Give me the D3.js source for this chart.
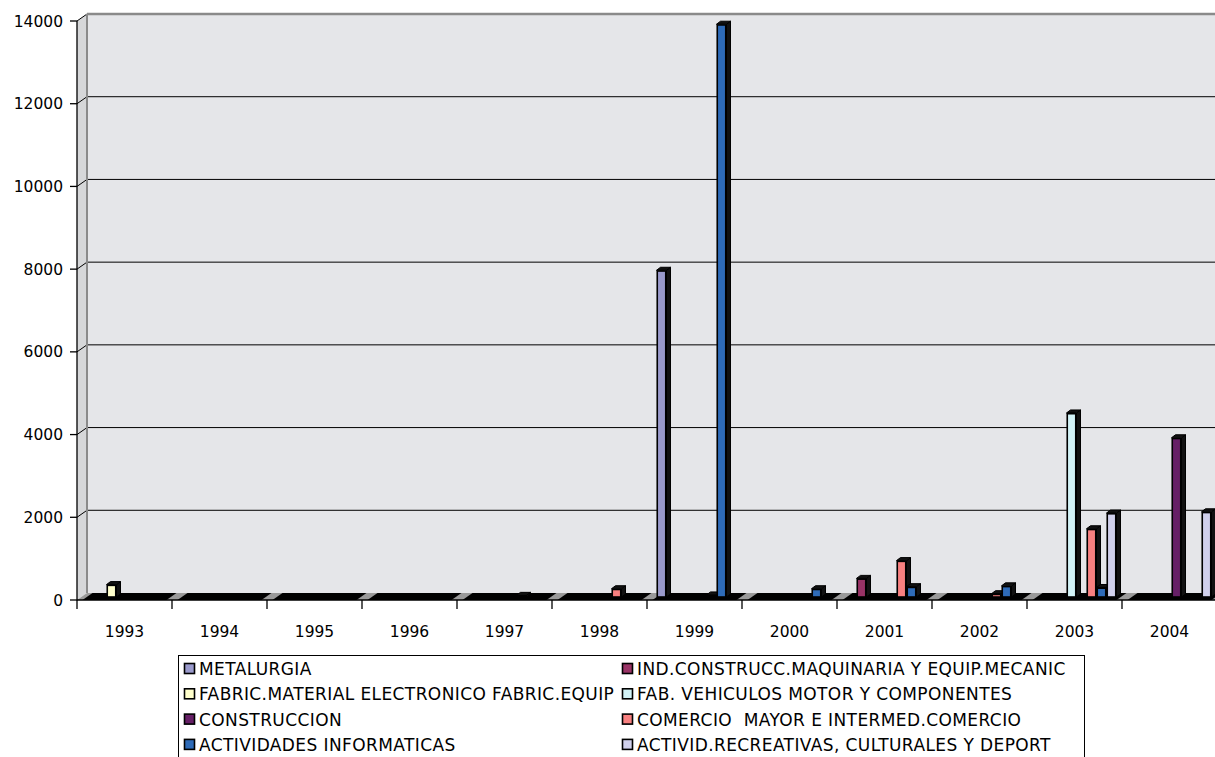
<!DOCTYPE html>
<html>
<head>
<meta charset="utf-8">
<script src="https://cdn.jsdelivr.net/npm/d3@7"></script>
<style>
  html, body { margin: 0; padding: 0; background: #fff; }
  svg { display: block; }
  text { font-family: "DejaVu Sans", sans-serif; fill: #000; }
</style>
</head>
<body>
<svg id="chart" width="1215" height="757"></svg>
<script>
// ---- data ----
const years = ["1993","1994","1995","1996","1997","1998","1999","2000","2001","2002","2003","2004"];
const seriesNames = [
  "METALURGIA",
  "IND.CONSTRUCC.MAQUINARIA Y EQUIP.MECANIC",
  "FABRIC.MATERIAL ELECTRONICO FABRIC.EQUIP",
  "FAB. VEHICULOS MOTOR Y COMPONENTES",
  "CONSTRUCCION",
  "COMERCIO  MAYOR E INTERMED.COMERCIO",
  "ACTIVIDADES INFORMATICAS",
  "ACTIVID.RECREATIVAS, CULTURALES Y DEPORT"
];
const metalurgia    = [0,0,0,0,0,0,7900,0,0,0,0,0];
const indConstrucc  = [0,0,0,0,0,0,0,0,450,0,0,0];
const fabricMaterial= [300,0,0,0,0,0,0,0,0,0,0,0];
const fabVehiculos  = [0,0,0,0,0,0,0,0,0,0,4450,0];
const construccion  = [0,0,0,0,0,0,0,0,0,0,0,3850];
const comercio      = [0,0,0,0,40,200,50,0,880,80,1650,0];
const informaticas  = [0,0,0,0,0,0,13850,200,250,270,230,0];
const recreativas   = [0,0,0,0,0,0,0,0,0,0,2030,2060];
const seriesValues = [metalurgia, indConstrucc, fabricMaterial, fabVehiculos, construccion, comercio, informaticas, recreativas];
const yTicks = [0,2000,4000,6000,8000,10000,12000,14000];
const colors = ["#9A9ACC","#993366","#FFFFCC","#D2F3F7","#661F66","#F88080","#2E6BB8","#D0D0EC"];

// ---- layout ----
const svg = d3.select("#chart");
const W = 1215;
const x0 = d3.scaleBand().domain(years).range([77, 77 + 95 * years.length]).padding(0);
const x1 = d3.scaleBand().domain(d3.range(seriesNames.length)).range([0, x0.bandwidth()]).paddingInner(0).paddingOuter(0.75);
const y = d3.scaleLinear().domain([0, 14000]).range([600, 21]);
const DX = 10, DY = -7;       // back wall depth offset
const BX = 2, BY = -3;        // bar plane offset
const TX = 4, TY = -3;        // bar depth
const axisX = 77, axisY = 600;
const wallTop = y(14000) + DY, floorBack = y(0) + DY;
const pts = arr => arr.map(p => p.join(",")).join(" ");

// back wall
svg.append("rect").attr("x", axisX + DX).attr("y", wallTop).attr("width", W - axisX - DX + 5).attr("height", floorBack - wallTop).attr("fill", "#E5E6E9");
// side wall
svg.append("polygon").attr("points", pts([[axisX, y(14000)], [axisX + DX, wallTop], [axisX + DX, floorBack], [axisX, axisY]]))
  .attr("fill", "#D6D7D9");

// gridlines
yTicks.filter(v => v > 0 && v < 14000).forEach(v => {
  svg.append("line").attr("x1", axisX + DX).attr("x2", W + 5).attr("y1", y(v) + DY).attr("y2", y(v) + DY).attr("stroke", "#000").attr("stroke-width", 1);
});
yTicks.filter(v => v > 0).forEach(v => {
  svg.append("line").attr("x1", axisX).attr("y1", y(v)).attr("x2", axisX + DX).attr("y2", y(v) + DY).attr("stroke", "#000").attr("stroke-width", 1);
});
// wall borders
svg.append("line").attr("x1", axisX + DX).attr("x2", W + 5).attr("y1", wallTop).attr("y2", wallTop).attr("stroke", "#8A8A8A").attr("stroke-width", 2.5);
svg.append("line").attr("x1", axisX + DX).attr("x2", axisX + DX).attr("y1", wallTop).attr("y2", floorBack).attr("stroke", "#8A8A8A").attr("stroke-width", 2);

// floor
svg.append("polygon").attr("points", pts([[axisX, axisY], [axisX + DX, floorBack], [W + 5, floorBack], [W + 5, axisY]]))
  .attr("fill", "#9A9A9A");
years.forEach(yr => {
  const gs = x0(yr);
  const a = gs + x1(0) - 2, b = gs + x1(seriesNames.length - 1) + x1.bandwidth() + 2;
  svg.append("polygon").attr("points", pts([[a, axisY], [b, axisY], [b + DX, floorBack], [a + DX, floorBack]]))
    .attr("fill", "#000");
});

// bars
years.forEach((yr, yi) => {
  seriesValues.forEach((vals, si) => {
    const v = vals[yi];
    if (!v) return;
    const fx = x0(yr) + x1(si) + BX;
    const w = x1.bandwidth();
    const ty = y(v) + BY, by = y(0) + BY;
    const g = svg.append("g");
    g.append("polygon").attr("points", pts([[fx + w, ty], [fx + w + TX, ty + TY], [fx + w + TX, by + TY], [fx + w, by]]))
      .attr("fill", "#111").attr("stroke", "#000").attr("stroke-width", 1);
    g.append("polygon").attr("points", pts([[fx, ty], [fx + TX, ty + TY], [fx + w + TX, ty + TY], [fx + w, ty]]))
      .attr("fill", "#111").attr("stroke", "#000").attr("stroke-width", 1);
    g.append("rect").attr("x", fx + 0.75).attr("y", ty + 0.75).attr("width", w - 1.5).attr("height", by - ty - 0.75)
      .attr("fill", colors[si]).attr("stroke", "#000").attr("stroke-width", 1.6);
  });
});

// axes
svg.append("line").attr("x1", axisX).attr("x2", axisX).attr("y1", y(14000)).attr("y2", axisY + 0.5).attr("stroke", "#000").attr("stroke-width", 1.3);
svg.append("line").attr("x1", axisX).attr("x2", W + 5).attr("y1", axisY).attr("y2", axisY).attr("stroke", "#000").attr("stroke-width", 1.3);
yTicks.forEach(v => {
  svg.append("line").attr("x1", axisX - 7).attr("x2", axisX).attr("y1", y(v)).attr("y2", y(v)).attr("stroke", "#000").attr("stroke-width", 1.3);
  svg.append("text").attr("x", 63).attr("y", y(v)).attr("dy", "0.36em").attr("text-anchor", "end").attr("font-size", 15.5).text(v);
});
years.forEach(yr => {
  svg.append("line").attr("x1", x0(yr)).attr("x2", x0(yr)).attr("y1", axisY).attr("y2", axisY + 9).attr("stroke", "#000").attr("stroke-width", 1.3);
  svg.append("text").attr("x", x0(yr) + x0.bandwidth() / 2).attr("y", 631).attr("dy", "0.36em").attr("text-anchor", "middle").attr("font-size", 15.5).text(yr);
});

// legend
svg.append("rect").attr("x", 178.5).attr("y", 655.5).attr("width", 906).attr("height", 130).attr("fill", "#fff").attr("stroke", "#000").attr("stroke-width", 1);
seriesNames.forEach((name, i) => {
  const col = i % 2, row = Math.floor(i / 2);
  const lx = col === 0 ? 184 : 622;
  const ly = 669 + row * 25.3;
  svg.append("rect").attr("x", lx + 0.5).attr("y", ly - 5.5).attr("width", 10).attr("height", 10).attr("fill", colors[i]).attr("stroke", "#000").attr("stroke-width", 1.6);
  svg.append("text").attr("x", lx + 15).attr("y", ly).attr("dy", "0.36em").attr("font-size", 17).attr("letter-spacing", 0.4).style("white-space", "pre").text(name);
});
</script>
</body>
</html>
